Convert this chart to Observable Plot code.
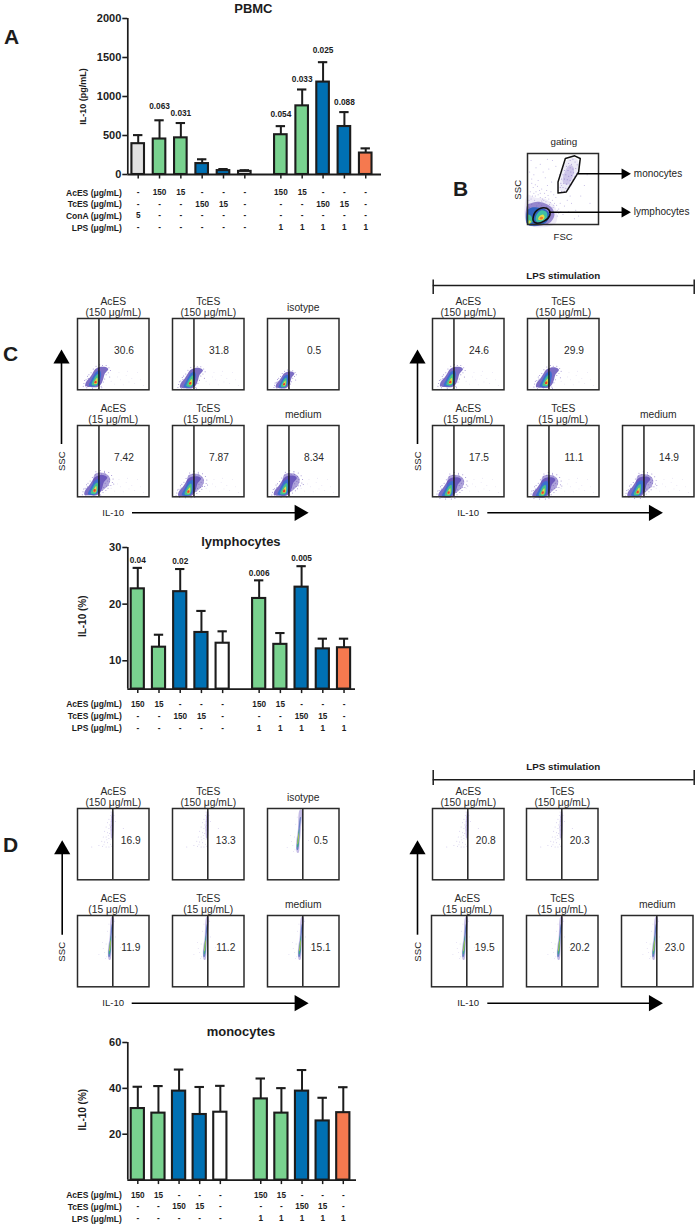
<!DOCTYPE html>
<html>
<head>
<meta charset="utf-8">
<script src="https://cdn.jsdelivr.net/npm/d3@7"></script>
<script src="https://cdn.jsdelivr.net/npm/@observablehq/plot@0.6"></script>
<style>
html,body{margin:0;padding:0;background:#fff}
#page{position:relative;width:697px;height:1225px;overflow:hidden;background:#fff}
#page svg{position:absolute;overflow:visible;max-width:none}
</style>
</head>
<body>
<div id="page"></div>
<script>
// ---------- bar chart data ----------
const GREEN = "#79d28f", BLUE = "#0070b3", ORANGE = "#f5794f", GREY = "#e2e2e2", WHITE = "#ffffff";

const aPositions = [0, 1, 2, 3, 4, 5, 6.69, 7.69, 8.67, 9.67, 10.67];
const aValues = [395, 455, 470, 140, 50, 40, 510, 880, 1185, 615, 275];
const aUpper = [505, 695, 660, 195, 70, 55, 620, 1090, 1440, 800, 335];
const aColors = [GREY, GREEN, GREEN, BLUE, BLUE, GREY, GREEN, GREEN, BLUE, BLUE, ORANGE];
const aP = [[1, "0.063", 880], [2, "0.031", 780], [6, "0.054", 770], [7, "0.033", 1225], [8, "0.025", 1590], [9, "0.088", 930]];
const aAces = ["-", "150", "15", "-", "-", "-", "150", "15", "-", "-", "-"];
const aTces = ["-", "-", "-", "150", "15", "-", "-", "-", "150", "15", "-"];
const aCona = ["5", "-", "-", "-", "-", "-", "-", "-", "-", "-", "-"];
const aLps = ["-", "-", "-", "-", "-", "-", "1", "1", "1", "1", "1"];

const lPositions = [0, 1, 2, 3, 4, 5.72, 6.72, 7.72, 8.72, 9.72];
const lValues = [22.7, 12.4, 22.2, 15, 13.1, 21, 12.9, 23, 12.1, 12.3];
const lUpper = [26.4, 14.6, 26.2, 18.8, 15.2, 24.2, 14.9, 26.7, 13.9, 13.9];
const lP = [[0, "0.04", 27.8], [2, "0.02", 27.5], [5, "0.006", 25.5], [7, "0.005", 28.1]];

const mPositions = [0, 1, 2, 3, 4, 5.96, 6.96, 7.96, 8.96, 9.96];
const mValues = [31.2, 29.2, 38.8, 28.6, 29.6, 35.4, 29.2, 38.8, 25.8, 29.4];
const mUpper = [40.7, 41, 48.2, 40.6, 41.1, 44.3, 40.1, 48, 35.9, 40.5];

const shortColors = [GREEN, GREEN, BLUE, BLUE, WHITE, GREEN, GREEN, BLUE, BLUE, ORANGE];
const shortAces = ["150", "15", "-", "-", "-", "150", "15", "-", "-", "-"];
const shortTces = ["-", "-", "150", "15", "-", "-", "-", "150", "15", "-"];
const shortLps = ["-", "-", "-", "-", "-", "1", "1", "1", "1", "1"];

// ---------- flow cytometry data (panel units, 0-100) ----------
const gatePercentC = 30, gatePercentD = 49.4;
const labelsTop = ["AcES\n(150 μg/mL)", "TcES\n(150 μg/mL)", "isotype"];
const labelsBottom = ["AcES\n(15 μg/mL)", "TcES\n(15 μg/mL)", "medium"];
const cLeftValues = [["30.6", "31.8", "0.5"], ["7.42", "7.87", "8.34"]];
const cRightValues = [["24.6", "29.9"], ["17.5", "11.1", "14.9"]];
const dLeftValues = [["16.9", "13.3", "0.5"], ["11.9", "11.2", "15.1"]];
const dRightValues = [["20.8", "20.3"], ["19.5", "20.2", "23.0"]];

const cCentersLeft = [[[25, 11], [24.6, 9.3], [23, 8]], [[23.7, 9], [22, 7.5], [23, 8.4]]];
const cCentersRight = [[[24.6, 11], [26, 10]], [[22.3, 6], [21, 6], [21, 7]]];

const blobPurple = [[-14,-6],[-8,-7],[3,-7],[8,-3],[11,4],[13,11],[18,18],[14,21],[6,21],[0,18],[-4,12],[-8,6],[-13,0]];
const blobBlue = [[-9,-5],[0,-6],[5,-3],[7,4],[8,12],[6,16],[1,14],[-3,8],[-6,2]];
const blobGreen = [[-5,-4],[1,-5],[4,-1],[5,6],[4,11],[1,9],[-2,4]];
const blobYellow = [[-2,-2],[2,-2.5],[3,2],[2.5,6],[0,3]];
const blobRed = [[-1.5,-1.5],[1.5,-1.5],[1.5,1.5],[-0.5,1.5]];
const blobHaloWide = [[0,-4],[8,-2],[14,2],[20,8],[22,16],[18,22],[8,25],[0,22]];
const speckleHalo = [[-17,-6],[-16,-2],[-13,3],[-10,5],[-9,10],[-6,13],[-3,18],[1,22],[6,24],[10,23],[15,23],[19,20],[21,16],[15,10],[13,4],[11,0],[8,-6],[-12,-8],[-4,-9],[18,13],[20,7],[-15,2],[-11,8],[4,-9],[9,-8]];
const speckleHaloWide = [[12,-3],[16,0],[19,3],[23,7],[25,11],[26,16],[24,21],[20,25],[14,27],[8,28],[2,26],[17,6],[21,12],[14,25],[27,9]];
const speckleRight = [[47,12],[52,8],[56,18],[60,14],[64,7],[68,20],[72,11],[76,16],[80,9],[84,24],[88,14],[92,6],[58,24],[70,26]];

const dSliverPurple = [[44,38],[46,38],[47.5,50],[49.5,75],[50.5,98],[47.5,98],[45,70],[42.5,50]];
const dSliverBlue = [[43.5,42],[45,42],[47.5,70],[49,88],[48.2,88],[45.5,65]];
const dSliverGreen = [[44,46],[45.2,46],[47,62],[46.8,72],[45,60]];
const dSliverYellow = [[44.4,50],[45,50],[46.5,62],[46.2,66],[44.8,56]];
const dFaint = [[47,95],[46,90],[48,88],[44,85],[47,82],[42,80],[45,77],[48,76],[40,74],[44,72],[47,70],[38,68],[42,66],[45,65],[48,63],[36,60],[40,60],[44,58],[47,57],[34,54],[38,53],[42,52],[46,50],[35,47],[40,46],[44,46],[30,48],[48,47],[43,62],[46,74],[49,92],[48,84],[49,70],[47,60],[41,56],[37,49],[51,90],[53,82],[64,72],[20,46]];
const dStray = [[30,45],[35,62],[38,48],[40,60],[41,42],[42,78],[44,88],[52,92],[53,70],[36,54],[39,40],[60,55]];

// ---------- panel B data ----------
const bMonoGate = [[53.3,92.9],[66.4,96.7],[74.3,92.9],[72,74],[54.7,45.8],[43,44.3],[43,59.9]];
const bLymphGate = [[8,5.7],[11,17.5],[21.9,23.6],[30,20.8],[31.3,12.7],[23.4,4.7],[12.6,1.9]];
const bMonoLight = [[46,48],[46,60],[55,90],[66,94],[72,88],[70,72],[56,48]];
const bMonoDark = [[50,60],[53,75],[60,84],[65,80],[64,68],[56,56]];
const bMonoDots = [[60,90],[64,92],[58,86],[62,85],[67,88],[70,84],[55,82],[60,80],[64,78],[68,79],[52,76],[57,76],[61,74],[65,73],[69,72],[50,70],[54,70],[58,68],[62,69],[66,68],[48,64],[52,64],[56,63],[60,62],[64,63],[47,58],[51,58],[55,57],[59,57],[62,56],[46,52],[50,52],[54,51],[58,50],[48,47],[52,47]];
const bCloudDots = [[5,90],[12,80],[9,70],[18,85],[22,74],[15,62],[6,58],[25,66],[30,78],[34,60],[28,55],[20,50],[12,46],[7,40],[24,44],[33,46],[40,38],[46,30],[38,30],[30,36],[18,38],[10,34],[26,32],[16,30],[36,24],[44,22],[52,26],[58,18],[50,14],[62,30],[68,20],[42,12],[75,40],[80,55],[84,70],[66,8],[72,12],[88,30],[35,90],[40,82],[28,92],[45,70],[48,55],[60,40],[56,34],[3,24],[6,28],[13,26],[20,27],[27,25],[31,28],[33,20],[36,16],[23,34],[18,44],[8,52],[14,54],[37,42],[27,48],[43,48],[4,46],[11,40],[21,36],[29,41],[35,34],[41,27],[47,18],[2,34],[5,36],[9,44],[15,42],[20,33],[25,38],[32,31],[37,27],[42,20],[44,16],[6,64],[3,74],[11,56],[17,48]];
const bFadeWide = [[0,0],[0,42],[10,38],[25,36],[38,26],[42,12],[38,0]];
const bFadeNear = [[0,0],[0,28],[5,30],[14,32],[24,30],[34,24],[38,14],[34,5],[26,0]];
const bBlue = [[0,0],[0,20],[6,24],[14,24],[24,22],[31,15],[28,5],[20,0]];
const bGreen = [[12,5],[13,14],[20,20],[27,17],[27,9],[20,3]];
const bCornerGreen = [[1,1],[1,14],[5,12],[7,4]];
const bYellow = [[15,7],[17,12],[22,14],[24,10],[20,6]];
const bCornerYellow = [[2,1],[2,6],[5,4]];
const bRed = [[17,8],[19,11],[22,10],[20,7]];

// ---------- layout and style ----------
const FONT = "'Liberation Sans', Arial, sans-serif";
const INK = "#1c1c1c";
const page = document.getElementById("page");
function place(svg, left, top) {
  svg.style.left = left + "px";
  svg.style.top = top + "px";
  page.appendChild(svg);
}

function barChart(o) {
  const rows = o.positions.map((p, i) => ({p, v: o.values[i], u: o.upper[i], c: o.colors[i]}));
  const [y0] = o.yDomain;
  const plotTop = 14;
  const xMin = o.xDomain[0];
  const marks = [
    Plot.ruleX(rows, {x: "p", y1: "v", y2: "u", stroke: INK, strokeWidth: 2}),
    Plot.ruleY(rows, {y: "u", x1: d => d.p - o.cap, x2: d => d.p + o.cap, stroke: INK, strokeWidth: 2.1}),
    Plot.rectY(rows, {x1: d => d.p - o.half, x2: d => d.p + o.half, y1: () => y0, y2: "v", fill: d => d.c, stroke: INK, strokeWidth: 2.1}),
    Plot.ruleY([y0], {stroke: INK, strokeWidth: 1.9}),
    Plot.ruleX([xMin], {stroke: INK, strokeWidth: 1.7}),
    Plot.axisY({ticks: o.yTicks, tickFormat: "d", tickSize: 5, tickPadding: 1.5, fontSize: 11, fontWeight: "bold", strokeWidth: 1.6, stroke: INK, color: INK, label: null}),
    Plot.axisX({ticks: o.positions, tickSize: 4.5, tickFormat: () => "", strokeWidth: 1.5, stroke: INK, label: null}),
    Plot.text([o.yLabel], {x: () => xMin, y: () => o.yMid, dx: -44.6, rotate: -90, fontSize: o.yLabelSize, fontWeight: "bold", fill: INK, textAnchor: "middle", lineAnchor: "middle"}),
    Plot.text([o.title], {x: () => o.titleX, y: () => o.yDomain[1], dy: o.titleDy, fontSize: 13, fontWeight: "bold", fill: INK, lineAnchor: "middle"})
  ];
  o.p.forEach(([i, t, v]) => marks.push(Plot.text([t], {x: () => o.positions[i], y: () => v, fontSize: 8.3, fontWeight: "bold", fill: INK, lineAnchor: "middle"})));
  o.table.forEach(([label, vals, dy]) => {
    marks.push(Plot.text(vals, {x: (d, i) => o.positions[i], y: () => y0, dy, text: d => d, fontSize: 8.2, fontWeight: "bold", fill: INK, lineAnchor: "middle"}));
    marks.push(Plot.text([label], {x: () => xMin, y: () => y0, dx: -6, dy, fontSize: 8.5, fontWeight: "bold", fill: INK, textAnchor: "end", lineAnchor: "middle"}));
  });
  const svg = Plot.plot({
    width: o.right + 16, height: plotTop + o.plotHeight + 60,
    marginLeft: 127.3, marginRight: 16, marginTop: plotTop, marginBottom: 60,
    style: {fontFamily: FONT, background: "transparent"},
    x: {type: "linear", domain: o.xDomain, range: [127.3, o.right]},
    y: {type: "linear", domain: o.yDomain, range: [plotTop + o.plotHeight, plotTop]},
    marks
  });
  place(svg, 0, o.top - plotTop);
}

barChart({
  top: 17.7, plotHeight: 156, right: 381,
  positions: aPositions, values: aValues, upper: aUpper, colors: aColors, p: aP,
  xDomain: [-0.488, 11.41], yDomain: [0, 2000], yTicks: [0, 500, 1000, 1500, 2000], half: 0.295, cap: 0.22,
  yLabel: "IL-10 (pg/mL)", yLabelSize: 9, yMid: 1000, title: "PBMC", titleX: 5.4, titleDy: -9.7,
  table: [["AcES (μg/mL)", aAces, 18.3], ["TcES (μg/mL)", aTces, 29.8], ["ConA (μg/mL)", aCona, 41.3], ["LPS (μg/mL)", aLps, 53.3]]
});
barChart({
  top: 546.7, plotHeight: 141.6, right: 355,
  positions: lPositions, values: lValues, upper: lUpper, colors: shortColors, p: lP,
  xDomain: [-0.47, 10.26], yDomain: [5, 30], yTicks: [10, 20, 30], half: 0.31, cap: 0.22,
  yLabel: "IL-10 (%)", yLabelSize: 10, yMid: 17.85, title: "lymphocytes", titleX: 4.86, titleDy: -6,
  table: [["AcES (μg/mL)", shortAces, 15], ["TcES (μg/mL)", shortTces, 27], ["LPS (μg/mL)", shortLps, 39]]
});
barChart({
  top: 1041.7, plotHeight: 137.6, right: 356,
  positions: mPositions, values: mValues, upper: mUpper, colors: shortColors, p: [],
  xDomain: [-0.485, 10.6], yDomain: [0, 60], yTicks: [20, 40, 60], half: 0.32, cap: 0.23,
  yLabel: "IL-10 (%)", yLabelSize: 10, yMid: 30.7, title: "monocytes", titleX: 5, titleDy: -10.7,
  table: [["AcES (μg/mL)", shortAces, 15.4], ["TcES (μg/mL)", shortTces, 26.7], ["LPS (μg/mL)", shortLps, 38.7]]
});

// ---------- flow panels ----------
const poly = (pts, fill, opacity = 1) => Plot.line(pts, {x: d => d[0], y: d => d[1], fill, fillOpacity: opacity, stroke: "none", curve: "catmull-rom-closed"});
const shift = (pts, c, s = 1) => pts.map(([x, y]) => [c[0] + x * s, c[1] + y * s]);
const dots = (pts, fill, r = 0.45, opacity = 0.55) => Plot.dot(pts, {x: d => d[0], y: d => d[1], r, fill, fillOpacity: opacity, stroke: "none"});

function flowPanel(left, top, gate, label, value, valueX, layers) {
  const mT = 30, mO = 2, W = 71.5, H = 71.3;
  const svg = Plot.plot({
    width: W + 2 * mO, height: H + mT + mO,
    marginLeft: mO, marginRight: mO, marginTop: mT, marginBottom: mO,
    style: {fontFamily: FONT, background: "transparent"},
    x: {type: "linear", domain: [0, 100], axis: null},
    y: {type: "linear", domain: [0, 100], axis: null},
    marks: [
      ...layers,
      Plot.ruleX([gate], {stroke: "#111", strokeWidth: 1.4}),
      Plot.frame({stroke: "#2a2a2a", strokeWidth: 1.5}),
      Plot.text([value], {x: () => valueX, y: () => 55, fontSize: 10.2, fill: "#2a2a2a", lineAnchor: "middle"}),
      Plot.text([label], {x: () => 50, y: () => 100, dy: label.includes("\n") ? -2.5 : -7, fontSize: 10.3, lineHeight: 1.1, fill: "#2a2a2a", lineAnchor: "bottom"})
    ]
  });
  place(svg, left - mO, top - mT);
}

function cLayers(center, wide, isotype) {
  const s = isotype ? 0.82 : 1;
  const out = [];
  if (wide) {
    out.push(poly(shift(blobHaloWide, center), "#6a55bb", 0.55));
    out.push(dots(shift(speckleHaloWide, center), "#6a52b8", 0.5, 0.7));
  }
  out.push(dots(shift(speckleHalo, center, s), "#6a52b8", 0.5, 0.7));
  if (!isotype) out.push(dots(speckleRight, "#a79ad8", 0.4, 0.5));
  out.push(
    poly(shift(blobPurple, center, s), "#5b49b5", 0.8),
    poly(shift(blobBlue, center, s), "#3c6fd0"),
    poly(shift(blobGreen, center, s), "#46c08f"),
    poly(shift(blobYellow, center, s), "#e3dc48"),
    poly(shift(blobRed, center, s), "#e8402a")
  );
  return out;
}
function dLayers(faint, offset) {
  if (faint) return [dots(shift(dFaint, [offset, 0]), "#8a78cc", 0.45, 0.6), poly(shift([[47.5,58],[49,58],[50,96],[48.5,96]], [offset, 0]), "#8a78cc", 0.45)];
  return [
    dots(shift(dStray, [offset, 0]), "#8a78cc", 0.4, 0.55),
    poly(shift(dSliverPurple, [offset, 0]), "#8a78cc", 0.5),
    poly(shift(dSliverBlue, [offset, 0]), "#4a6cb8", 0.75),
    poly(shift(dSliverGreen, [offset, 0]), "#3fa68c"),
    poly(shift(dSliverYellow, [offset, 0]), "#b8c64a")
  ];
}

const colsLeft = [77, 172.2, 267];
const colsRight = [432.3, 527.3, 622];
const rowsC = [317.7, 424.7];
const rowsD = [808, 915.3];
const labelRows = [labelsTop, labelsBottom];

[0, 1].forEach(r => colsLeft.forEach((x, c) => {
  flowPanel(x, rowsC[r], gatePercentC, labelRows[r][c], cLeftValues[r][c], 65, cLayers(cCentersLeft[r][c], r === 1, r === 0 && c === 2));
  const isotype = r === 0 && c === 2;
  flowPanel(x, rowsD[r], gatePercentD, labelRows[r][c], dLeftValues[r][c], 74.5, dLayers(r === 0 && !isotype, isotype ? -2.5 : 0));
}));
[0, 1].forEach(r => cRightValues[r].forEach((v, c) => {
  flowPanel(colsRight[c], rowsC[r], gatePercentC, labelRows[r][c], v, 65, cLayers(cCentersRight[r][c], r === 1, false));
}));
const dRightCols = [[432.3, 526], [431, 526, 620.7]];
[0, 1].forEach(r => dRightValues[r].forEach((v, c) => {
  flowPanel(dRightCols[r][c], rowsD[r], gatePercentD, labelRows[r][c], v, 74.5, dLayers(r === 0, 0));
}));

// ---------- panel B ----------
{
  const mO = 2, S = 71;
  const svg = Plot.plot({
    width: S + 2 * mO, height: S + 2 * mO,
    marginLeft: mO, marginRight: mO, marginTop: mO, marginBottom: mO,
    style: {fontFamily: FONT, background: "transparent"},
    x: {type: "linear", domain: [0, 100], axis: null},
    y: {type: "linear", domain: [0, 100], axis: null},
    marks: [
      dots(bCloudDots, "#8878cc", 0.5, 0.6),
      poly(bFadeWide, "#7a63c4", 0.12),
      poly(bFadeNear, "#5a45b0", 0.6),
      poly(bMonoLight, "#a79ad8", 0.2),
      poly(bMonoDark, "#7a63c4", 0.28),
      dots(bMonoDots, "#6a52b8", 0.5, 0.6),
      poly(bBlue, "#2f62c0"),
      poly(bGreen, "#3fc0a0"),
      poly(bCornerGreen, "#46c08f"),
      poly(bYellow, "#e3dc48"),
      poly(bCornerYellow, "#e3dc48"),
      poly(bRed, "#ee7a2a"),
      Plot.line([...bMonoGate, bMonoGate[0]], {x: d => d[0], y: d => d[1], stroke: "#111", strokeWidth: 1.5}),
      Plot.line(bLymphGate, {x: d => d[0], y: d => d[1], stroke: "#111", strokeWidth: 1.6, curve: "catmull-rom-closed"}),
      Plot.frame({stroke: "#2a2a2a", strokeWidth: 1.5})
    ]
  });
  place(svg, 527.3 - mO, 153.1 - mO);
}

// ---------- annotation layer ----------
const notes = [
  ["A", 11, 37, 21, "bold", 0], ["B", 460, 189, 21, "bold", 0], ["C", 10, 354, 21, "bold", 0], ["D", 10, 845, 21, "bold", 0],
  ["gating", 563.3, 141.7, 9.8, "normal", 0], ["FSC", 562.7, 236, 9.6, "normal", 0], ["SSC", 517.3, 189.3, 9.6, "normal", -90],
  ["SSC", 61.7, 460.7, 9.6, "normal", -90], ["SSC", 417.5, 460.7, 9.6, "normal", -90],
  ["SSC", 61.7, 951.3, 9.6, "normal", -90], ["SSC", 417.5, 951.3, 9.6, "normal", -90],
  ["IL-10", 112.7, 512.3, 9.6, "normal", 0], ["IL-10", 467.7, 512.3, 9.6, "normal", 0],
  ["IL-10", 112.7, 1002.7, 9.6, "normal", 0], ["IL-10", 467.7, 1002.7, 9.6, "normal", 0],
  ["LPS stimulation", 562.7, 275.7, 9.8, "bold", 0], ["LPS stimulation", 562.7, 766, 9.8, "bold", 0]
];
const leftNotes = [["monocytes", 633.3, 173.3], ["lymphocytes", 633.3, 211.7]];
const arrowsRight = [[578, 627, 173.3, 4], [549, 627, 211.7, 4], [132, 303, 512.3, 6], [487.3, 657.3, 512.3, 6], [131.7, 303, 1002.7, 6], [487.3, 657.3, 1002.7, 6]];
const arrowsUp = [[61, 444, 354.3], [417, 444, 354.3], [61.7, 934.7, 845], [417, 934.7, 845]];
const brackets = [[432.7, 693.7, 285, 279.5, 294], [432.7, 693.7, 779.3, 770, 785]];

const overlayMarks = [];
notes.forEach(([t, x, y, size, weight, rotate]) => overlayMarks.push(Plot.text([t], {x: () => x, y: () => y, fontSize: size, fontWeight: weight, rotate, fill: INK, lineAnchor: "middle", textAnchor: "middle"})));
overlayMarks.push(Plot.text(leftNotes, {x: d => d[1], y: d => d[2], text: d => d[0], fontSize: 10, fill: INK, textAnchor: "start", lineAnchor: "middle"}));
arrowsRight.forEach(([x1, x2, y, r]) => {
  overlayMarks.push(Plot.ruleY([y], {x1: () => x1, x2: () => x2 - r, stroke: "#000", strokeWidth: 1.5}));
  overlayMarks.push(Plot.dot([y], {x: () => x2 - r * 0.7, y: d => d, symbol: "triangle", r, rotate: 90, fill: "#000", stroke: "none"}));
});
arrowsUp.forEach(([x, y1, y2]) => {
  overlayMarks.push(Plot.ruleX([x], {y1: () => y1, y2: () => y2 + 5, stroke: "#000", strokeWidth: 1.6}));
  overlayMarks.push(Plot.dot([x], {x: d => d, y: () => y2 + 4, symbol: "triangle", r: 6, fill: "#000", stroke: "none"}));
});
brackets.forEach(([x1, x2, y, t1, t2]) => {
  overlayMarks.push(Plot.ruleY([y], {x1: () => x1, x2: () => x2, stroke: INK, strokeWidth: 1.5}));
  overlayMarks.push(Plot.ruleX([x1, x2], {y1: () => t1, y2: () => t2, stroke: INK, strokeWidth: 1.5}));
});
place(Plot.plot({
  width: 697, height: 1225, margin: 0,
  style: {fontFamily: FONT, background: "transparent"},
  x: {type: "linear", domain: [0, 697], range: [0, 697], axis: null},
  y: {type: "linear", domain: [0, 1225], range: [0, 1225], axis: null},
  marks: overlayMarks
}), 0, 0);
</script>
</body>
</html>
